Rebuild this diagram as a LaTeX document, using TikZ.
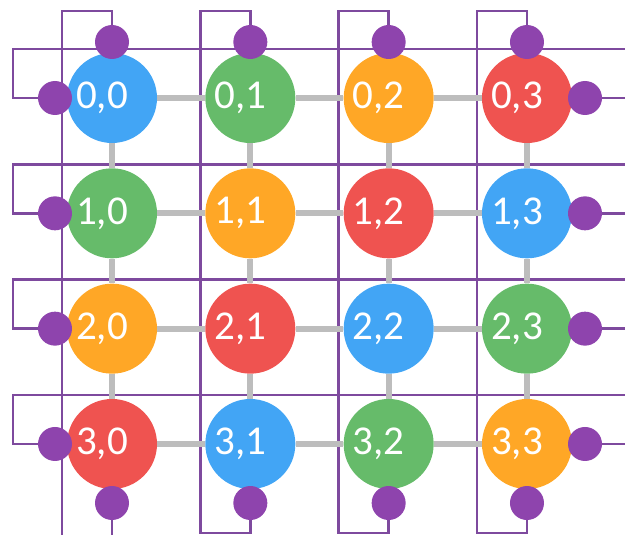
\documentclass[tikz,border=0pt]{standalone}
\usepackage{fontspec}
\setmainfont{Carlito}
\definecolor{cc0}{HTML}{42A5F5}
\definecolor{cc1}{HTML}{66BB6A}
\definecolor{cc2}{HTML}{FFA726}
\definecolor{cc3}{HTML}{EF5350}
\definecolor{cport}{HTML}{8E44AD}
\definecolor{cwire}{HTML}{7E4A9E}
\definecolor{cgray}{HTML}{BDBDBD}
\pgfdeclarelayer{wirelayer}
\pgfdeclarelayer{linklayer}
\pgfsetlayers{wirelayer,linklayer,main}
\newcommand{\celltext}[1]{\raisebox{4pt}{\hspace*{-20pt}#1}}
\begin{document}
\begin{tikzpicture}[x=1pt,y=-1pt,
  cell/.style={circle, minimum size=90pt, inner sep=0pt, text=white,
    font=\fontsize{41}{41}\selectfont},
  port/.style={circle, fill=cport, minimum size=34pt, inner sep=0pt},
  wire/.style={draw=cwire, line width=2.4pt},
  link/.style={draw=cgray, line width=6pt}]
\useasboundingbox (0,0) rectangle (625,535);
% cells
\foreach \r in {0,...,3}{
  \foreach \c in {0,...,3}{
    \pgfmathtruncatemacro\k{mod(\r+\c,4)}
    \node[cell, fill=cc\k] (n\r\c) at ({112+138.33*\c},{98+115.33*\r}) {\celltext{\r,\c}};
  }
}
% ports
\foreach \r in {0,...,3}{
  \node[port] (pl\r) at (55,{98+115.33*\r}) {};
  \node[port] (pr\r) at (585,{98+115.33*\r}) {};
}
\foreach \c in {0,...,3}{
  \node[port] (pt\c) at ({112+138.33*\c},42) {};
  \node[port] (pb\c) at ({112+138.33*\c},503) {};
}
% gray links
\begin{pgfonlayer}{linklayer}
\foreach \r in {0,...,3}{
  \foreach \c/\d in {0/1,1/2,2/3}{
    \draw[link] (n\r\c) -- (n\r\d);
    \draw[link] (n\c\r) -- (n\d\r);
  }
}
\end{pgfonlayer}
% purple wires
\begin{pgfonlayer}{wirelayer}
\foreach \r in {0,...,3}{
  \coordinate (er\r) at (625,{49+115.33*\r});
  \coordinate (eo\r) at (625,{98+115.33*\r});
  \draw[wire] (er\r) -- (13,{49+115.33*\r}) |- (pl\r.center);
  \draw[wire] (pr\r.center) -- (eo\r);
}
\coordinate (ev0) at (62,535);
\coordinate (eb0) at (112,535);
\draw[wire] (pt0.center) -- (112,11) -| (ev0);
\draw[wire] (pb0.center) -- (eb0);
\foreach \c in {1,2,3}{
  \draw[wire] (pt\c.center) -- ({112+138.33*\c},11) -| ({62+138.33*\c},533) -| (pb\c.center);
}
\end{pgfonlayer}
\end{tikzpicture}
\end{document}
